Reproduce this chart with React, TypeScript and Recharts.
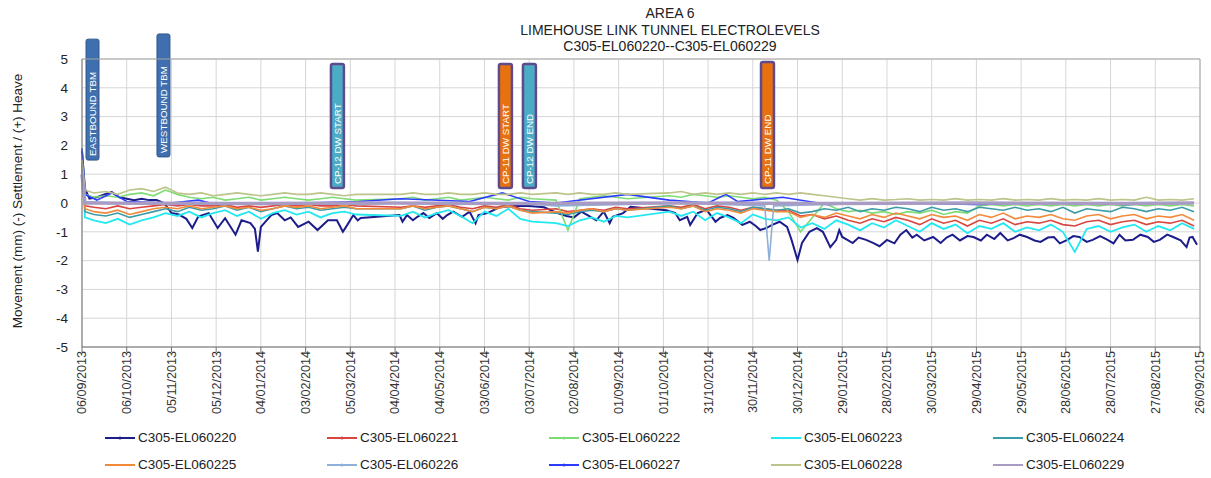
import React from 'react';
import { LineChart, Line, XAxis, YAxis, CartesianGrid, ReferenceArea, ReferenceLine } from 'recharts';

const FONT = "Arial, 'Liberation Sans', sans-serif";

// x values are days since 06/09/2013
const tickDays = [0, 30, 60, 90, 120, 150, 180, 210, 240, 270, 300, 330, 360, 390, 420, 450, 480, 510, 540, 570, 600, 630, 660, 690, 720, 750];
const tickLabels = [
  '06/09/2013', '06/10/2013', '05/11/2013', '05/12/2013', '04/01/2014', '03/02/2014', '05/03/2014',
  '04/04/2014', '04/05/2014', '03/06/2014', '03/07/2014', '02/08/2014', '01/09/2014', '01/10/2014',
  '31/10/2014', '30/11/2014', '30/12/2014', '29/01/2015', '28/02/2015', '30/03/2015', '29/04/2015',
  '29/05/2015', '28/06/2015', '28/07/2015', '27/08/2015', '26/09/2015',
];
const yTicks = [-5, -4, -3, -2, -1, 0, 1, 2, 3, 4, 5];

// C305-EL060220 (own readings)
const el220Days = [
  0, 2, 5, 10, 15, 20, 25, 30, 35, 40, 45, 50, 55, 58, 60, 65, 70, 74, 78, 85,
  91, 96, 103, 107, 113, 116, 118, 120, 127, 131, 136, 140, 145, 152, 158, 165, 171, 175, 178, 182,
  185, 187, 213, 215, 218, 222, 225, 229, 233, 238, 242, 245, 249, 255, 260, 264, 266, 272, 280, 290,
  300, 310, 319, 325, 330, 335, 340, 345, 350, 354, 356, 363, 368, 392, 398, 401, 406, 408, 413, 419,
  425, 428, 433, 437, 443, 448, 452, 455, 459, 463, 468, 473, 476, 480, 483, 488, 493, 497, 502, 506,
  508, 510, 514, 517, 521, 526, 531, 535, 540, 545, 549, 553, 557, 560, 565, 571, 576, 580, 584, 589,
  594, 598, 603, 607, 612, 616, 621, 625, 629, 634, 639, 643, 648, 652, 656, 661, 665, 669, 674, 678,
  683, 688, 692, 696, 700, 705, 710, 715, 719, 723, 728, 732, 737, 741, 743, 745, 748,
];
const el220 = [
  1.8, 0.5, 0.15, 0.2, 0.3, 0.38, 0.2, 0.15, 0.1, 0.15, 0.1, 0.1, 0.0, -0.2, -0.35, -0.4, -0.55, -0.87, -0.47, -0.35,
  -0.87, -0.53, -1.1, -0.6, -0.7, -0.9, -1.69, -0.83, -0.42, -0.35, -0.6, -0.5, -0.83, -0.65, -0.94, -0.6, -0.6, -1.0, -0.76, -0.42,
  -0.6, -0.52, -0.42, -0.65, -0.42, -0.6, -0.48, -0.35, -0.52, -0.35, -0.55, -0.42, -0.3, -0.48, -0.3, -0.7, -0.42, -0.35, -0.15, -0.1,
  -0.1, -0.15, -0.35, -0.45, -0.5, -0.3, -0.45, -0.6, -0.3, -0.7, -0.48, -0.35, -0.13, -0.25, -0.35, -0.6, -0.48, -0.76, -0.35, -0.24,
  -0.65, -0.52, -0.42, -0.52, -0.76, -0.65, -0.8, -0.94, -0.87, -0.76, -0.65, -0.83, -1.28, -1.98, -1.39, -1.0, -0.87, -1.0, -1.53, -1.28,
  -0.94, -1.18, -1.3, -1.39, -1.2, -1.28, -1.39, -1.5, -1.28, -1.4, -1.1, -0.94, -1.2, -1.1, -1.3, -1.18, -1.39, -1.2, -1.1, -1.3,
  -1.15, -1.18, -1.3, -1.1, -1.25, -1.04, -1.3, -1.22, -1.1, -1.18, -1.3, -1.35, -1.2, -1.18, -1.4, -1.28, -1.15, -1.18, -1.35, -1.28,
  -1.15, -1.28, -1.4, -1.1, -1.3, -1.28, -1.1, -1.18, -1.35, -1.28, -1.1, -1.18, -1.3, -1.53, -1.2, -1.18, -1.45,
];

// shared reading days for 221-225 and 228 (gaps where no readings)
const readDays = [
  0, 2, 8, 16, 24, 32, 40, 48, 56, 64,
  72, 80, 88, 96, 104, 112, 120, 128, 136, 144,
  152, 160, 168, 176, 184,
  214, 222, 230, 238, 246, 254, 262, 270, 278, 286, 294, 302,
  318, 326, 334, 342, 350, 358, 366,
  394, 402, 410, 418, 426, 434, 442, 450, 458, 466,
  474, 482, 490, 498, 506, 514, 522, 530, 538, 546,
  554, 562, 570, 578, 586, 594, 602, 610, 618, 626,
  634, 642, 650, 658, 666, 674, 682, 690, 698, 706,
  714, 722, 730, 738, 746,
];
const el221 = [
  1.2, -0.1, -0.15, -0.2, -0.1, -0.2, -0.15, -0.1, -0.05, -0.1,
  -0.05, -0.1, -0.1, -0.05, -0.15, -0.1, -0.15, -0.1, -0.05, -0.1,
  -0.05, -0.1, -0.1, -0.05, -0.1,
  -0.15, -0.1, -0.15, -0.1, -0.05, -0.15, -0.2, -0.1, -0.15, -0.05, -0.2, -0.25,
  -0.2, -0.3, -0.25, -0.2, -0.25, -0.15, -0.2,
  -0.1, -0.15, -0.05, -0.2, -0.1, -0.15, -0.25, -0.15, -0.2, -0.25,
  -0.25, -0.45, -0.4, -0.55, -0.45, -0.6, -0.7, -0.55, -0.65, -0.5,
  -0.6, -0.75, -0.55, -0.7, -0.6, -0.8, -0.6, -0.7, -0.55, -0.75,
  -0.65, -0.7, -0.6, -0.75, -0.8, -0.65, -0.6, -0.75, -0.65, -0.6,
  -0.75, -0.65, -0.7, -0.6, -0.8,
];
const el222 = [
  1.7, 0.3, 0.2, 0.25, 0.2, 0.3, 0.35, 0.25, 0.45, 0.3,
  0.2, 0.15, 0.2, 0.1, 0.15, 0.2, 0.1, 0.15, 0.2, 0.15,
  0.1, 0.15, 0.2, 0.15, 0.1,
  0.15, 0.2, 0.1, 0.15, 0.2, 0.1, 0.15, 0.2, 0.15, 0.1, 0.2, 0.15,
  0.1, -0.95, 0.15, 0.2, 0.25, 0.2, 0.15,
  0.25, 0.2, 0.3, 0.25, 0.2, 0.25, 0.2, 0.15, 0.2, 0.1,
  -0.3, -1.0, -0.5, 0.0, -0.2, -0.3, -0.25, -0.35, -0.3, -0.4,
  -0.3, -0.35, -0.25, -0.4, -0.3, -0.35, -0.1, -0.05, -0.1, -0.05,
  -0.1, -0.05, -0.1, -0.05, -0.1, -0.05, -0.1, -0.05, -0.1, -0.05,
  -0.1, -0.05, -0.1, -0.05, -0.1,
];
const el223 = [
  1.6, -0.5, -0.6, -0.7, -0.55, -0.75, -0.6, -0.5, -0.35, -0.45,
  -0.3, -0.5, -0.35, -0.25, -0.45, -0.3, -0.55, -0.35, -0.25, -0.4,
  -0.3, -0.5, -0.35, -0.3, -0.4,
  -0.45, -0.3, -0.5, -0.35, -0.25, -0.45, -0.7, -0.3, -0.45, -0.2, -0.55, -0.65,
  -0.7, -0.8, -0.6, -0.5, -0.65, -0.45, -0.5,
  -0.3, -0.45, -0.3, -0.6, -0.35, -0.5, -0.7, -0.4, -0.55, -0.6,
  -0.5, -0.85, -0.7, -0.9, -0.6, -0.75, -0.95, -0.7, -0.85, -0.6,
  -0.8, -1.0, -0.7, -0.9, -0.75, -1.05, -0.8, -0.9, -0.7, -1.0,
  -0.85, -0.95, -0.75, -1.0, -1.7, -0.9, -0.8, -1.0, -0.85, -0.75,
  -1.0, -0.8, -0.95, -0.7, -0.9,
];
const el224 = [
  1.4, -0.3, -0.4, -0.45, -0.35, -0.5, -0.4, -0.3, -0.2, -0.3,
  -0.15, -0.25, -0.2, -0.1, -0.25, -0.15, -0.3, -0.2, -0.1, -0.2,
  -0.15, -0.25, -0.2, -0.15, -0.2,
  -0.2, -0.1, -0.25, -0.15, -0.1, -0.2, -0.3, -0.15, -0.2, -0.1, -0.25, -0.3,
  -0.35, -0.4, -0.3, -0.25, -0.3, -0.2, -0.25,
  -0.1, -0.2, -0.1, -0.25, -0.15, -0.2, -0.3, -0.15, -0.2, -0.25,
  -0.2, -0.35, -0.3, -0.2, -0.25, -0.15, -0.3, -0.2, -0.25, -0.15,
  -0.2, -0.3, -0.15, -0.25, -0.2, -0.3, -0.15, -0.2, -0.25, -0.15,
  -0.25, -0.2, -0.3, -0.15, -0.35, -0.2, -0.25, -0.3, -0.15, -0.2,
  -0.3, -0.2, -0.25, -0.15, -0.3,
];
const el225 = [
  1.3, -0.2, -0.3, -0.35, -0.25, -0.4, -0.3, -0.2, -0.15, -0.2,
  -0.1, -0.2, -0.15, -0.1, -0.2, -0.15, -0.25, -0.2, -0.1, -0.15,
  -0.1, -0.2, -0.15, -0.1, -0.2,
  -0.2, -0.1, -0.2, -0.15, -0.1, -0.2, -0.3, -0.15, -0.2, -0.1, -0.25, -0.35,
  -0.3, -0.35, -0.25, -0.2, -0.3, -0.2, -0.25,
  -0.15, -0.2, -0.1, -0.3, -0.2, -0.25, -0.35, -0.2, -0.25, -0.3,
  -0.3, -0.5, -0.4, -0.5, -0.35, -0.45, -0.55, -0.4, -0.5, -0.35,
  -0.45, -0.55, -0.4, -0.5, -0.45, -0.6, -0.4, -0.5, -0.35, -0.55,
  -0.45, -0.5, -0.4, -0.55, -0.6, -0.45, -0.4, -0.55, -0.45, -0.4,
  -0.55, -0.45, -0.5, -0.4, -0.6,
];
const el228 = [
  1.5, 0.45, 0.35, 0.4, 0.3, 0.45, 0.5, 0.4, 0.55, 0.35,
  0.3, 0.35, 0.25, 0.3, 0.35, 0.3, 0.25, 0.3, 0.35, 0.3,
  0.3, 0.35, 0.3, 0.25, 0.3,
  0.3, 0.35, 0.3, 0.3, 0.35, 0.3, 0.3, 0.35, 0.3, 0.3, 0.35, 0.3,
  0.35, 0.3, 0.35, 0.3, 0.3, 0.35, 0.3,
  0.35, 0.4, 0.3, 0.35, 0.3, 0.35, 0.3, 0.35, 0.3, 0.35,
  0.3, 0.35, 0.3, 0.25, 0.2, 0.15, 0.1, 0.15, 0.1, 0.12,
  0.15, 0.1, 0.12, 0.1, 0.15, 0.1, 0.12, 0.1, 0.15, 0.1,
  0.12, 0.1, 0.15, 0.1, 0.12, 0.1, 0.15, 0.1, 0.12, 0.1,
  0.2, 0.1, 0.12, 0.1, 0.15,
];

// C305-EL060226, 227, 229 (sparser readings)
const el226Days = [0, 2, 30, 60, 90, 120, 150, 186, 214, 250, 290, 318, 366, 394, 430, 458, 461, 464, 500, 550, 600, 650, 700, 746];
const el226 = [1.2, 0.05, 0.0, -0.05, 0.0, -0.05, 0.0, -0.05, 0.0, -0.05, 0.0, -0.1, -0.05, 0.0, -0.05, -0.1, -2.0, -0.1, -0.05, 0.0, -0.05, 0.0, -0.05, 0.0];
const el227Days = [0, 2, 10, 20, 30, 60, 78, 90, 150, 186, 214, 260, 282, 300, 318, 366, 394, 420, 432, 440, 470, 500, 550, 600, 650, 700, 746];
const el227 = [1.9, 0.3, 0.1, 0.35, 0.05, 0.0, 0.1, -0.05, 0.0, 0.05, 0.15, 0.05, 0.35, 0.05, 0.0, 0.3, 0.1, 0.0, 0.3, 0.05, 0.2, -0.05, 0.0, -0.05, 0.0, -0.05, 0.0];
const el229Days = [0, 2, 100, 200, 300, 400, 500, 600, 700, 746];
const el229 = [1.0, 0.0, -0.02, 0.0, -0.02, 0.0, -0.02, 0.0, -0.02, 0.0];

// event markers
const eventNames = ['EASTBOUND TBM', 'WESTBOUND TBM', 'CP-12 DW START', 'CP-11 DW START', 'CP-12 DW END', 'CP-11 DW END'];
const eventFrom = [2.7, 50.3, 167, 279.7, 295.8, 455.5];
const eventTo = [11.4, 59, 175.7, 288.4, 304.5, 464.2];
const eventTop = [5.69, 5.87, 4.83, 4.83, 4.83, 4.9];
const eventBottom = [1.49, 1.6, 0.52, 0.52, 0.52, 0.52];

const toPoints = (days: number[], vals: number[]) => days.map((d, i) => ({ day: d, v: vals[i] }));

const series = [
  { name: 'C305-EL060220', color: '#1c1c8a', width: 2, dot: true, data: toPoints(el220Days, el220) },
  { name: 'C305-EL060221', color: '#d9453f', width: 1.6, dot: true, data: toPoints(readDays, el221) },
  { name: 'C305-EL060222', color: '#7fdc74', width: 1.6, dot: true, data: toPoints(readDays, el222) },
  { name: 'C305-EL060223', color: '#22e8f2', width: 1.8, dot: false, data: toPoints(readDays, el223) },
  { name: 'C305-EL060224', color: '#3a9ca6', width: 1.6, dot: false, data: toPoints(readDays, el224) },
  { name: 'C305-EL060225', color: '#f28a3c', width: 1.6, dot: false, data: toPoints(readDays, el225) },
  { name: 'C305-EL060226', color: '#8fb0d8', width: 1.6, dot: true, data: toPoints(el226Days, el226) },
  { name: 'C305-EL060227', color: '#2b3cff', width: 1.6, dot: true, data: toPoints(el227Days, el227) },
  { name: 'C305-EL060228', color: '#bcc48a', width: 1.6, dot: false, data: toPoints(readDays, el228) },
  { name: 'C305-EL060229', color: '#a99cc4', width: 3.5, dot: false, data: toPoints(el229Days, el229) },
];

const DateTick = ({ x, y, payload }: any) => (
  <text
    transform={`translate(${x},${y - 3}) rotate(-90)`}
    textAnchor="end"
    dy="0.35em"
    fontSize={12.6}
    fill="#333"
    fontFamily={FONT}
  >
    {tickLabels[tickDays.indexOf(payload.value)]}
  </text>
);

const EventBox = (props: any) => {
  const { x, y, width, height, text } = props;
  const isTbm = text.indexOf('TBM') >= 0;
  const fill = isTbm ? '#3f6fae' : text.indexOf('CP-11') >= 0 ? '#e8700f' : '#4bacc6';
  const stroke = isTbm ? '#2f568c' : '#5f4b8b';
  return (
    <g>
      <rect x={x} y={y} width={width} height={height} rx={2} fill={fill} stroke={stroke} strokeWidth={isTbm ? 1 : 2.5} />
      <text
        transform={`translate(${x + width / 2},${y + height - 4}) rotate(-90)`}
        textAnchor="start"
        dy="0.35em"
        fontSize={9.8}
        fill="#ffffff"
        fontFamily={FONT}
      >
        {text}
      </text>
    </g>
  );
};

const YLabel = (props: any) => {
  const vb = props.viewBox || { x: 0, y: 59, width: 82, height: 288 };
  const cy = vb.y + vb.height / 2;
  return (
    <text
      transform={`translate(17,${cy - 2}) rotate(-90)`}
      textAnchor="middle"
      dy="0.35em"
      fontSize={13.5}
      fill="#222"
      fontFamily={FONT}
    >
      Movement (mm) (-) Settlement / (+) Heave
    </text>
  );
};

const LegendKey = ({ color, dot }: { color: string; dot: boolean }) => (
  <svg width={30} height={10} style={{ display: 'block' }}>
    <line x1={0} y1={5} x2={30} y2={5} stroke={color} strokeWidth={2} />
    {dot && <circle cx={15} cy={5} r={1.5} fill={color} />}
  </svg>
);

export default function App() {
  return (
    <div style={{ position: 'absolute', left: 0, top: 0, width: 1211, height: 478, background: '#fff', fontFamily: FONT }}>
      <div
        style={{
          position: 'absolute', left: 470, top: 5, width: 400, textAlign: 'center',
          fontSize: 14, lineHeight: '16.5px', color: '#222',
        }}
      >
        <div>AREA 6</div>
        <div>LIMEHOUSE LINK TUNNEL ELECTROLEVELS</div>
        <div>C305-EL060220--C305-EL060229</div>
      </div>

      <LineChart width={1211} height={478} margin={{ top: 59, right: 11, left: 0, bottom: 56 }}>
        <CartesianGrid stroke="#d6d6d6" />
        <XAxis
          dataKey="day"
          type="number"
          domain={[0, 750]}
          ticks={tickDays}
          interval={0}
          height={75}
          tick={<DateTick />}
          tickSize={5}
          axisLine={{ stroke: '#6f6f6f' }}
          tickLine={{ stroke: '#6f6f6f' }}
          allowDuplicatedCategory={false}
        />
        <YAxis
          type="number"
          domain={[-5, 5]}
          ticks={yTicks}
          width={82}
          tickLine={false}
          axisLine={{ stroke: '#6f6f6f' }}
          tick={{ fontSize: 13.5, fill: '#222', fontFamily: FONT }}
          tickMargin={8}
          label={<YLabel />}
        />
        <ReferenceLine y={5} stroke="#a6a6a6" />
        <ReferenceLine x={750} stroke="#a6a6a6" />
        {series.map((s) => (
          <Line
            key={s.name}
            data={s.data}
            dataKey="v"
            name={s.name}
            type="linear"
            stroke={s.color}
            strokeWidth={s.width}
            dot={false}
            isAnimationActive={false}
          />
        ))}
        {eventNames.map((name, i) => (
          <ReferenceArea
            key={name}
            x1={eventFrom[i]}
            x2={eventTo[i]}
            y1={eventBottom[i]}
            y2={eventTop[i]}
            ifOverflow="visible"
            shape={(p: any) => <EventBox {...p} text={name} />}
          />
        ))}
      </LineChart>

      {series.map((s, i) => (
        <div
          key={s.name}
          style={{
            position: 'absolute',
            left: 105 + (i % 5) * 222,
            top: 430 + Math.floor(i / 5) * 27,
            display: 'flex',
            alignItems: 'center',
            gap: 3,
            fontSize: 13.5,
            color: '#222',
            lineHeight: '16px',
          }}
        >
          <LegendKey color={s.color} dot={s.dot} />
          <span>{s.name}</span>
        </div>
      ))}
    </div>
  );
}
